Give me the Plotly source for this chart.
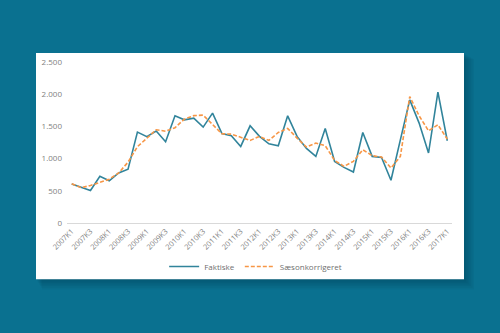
import plotly.graph_objects as go

quarters = [f"{y}K{q}" for y in range(2007, 2017) for q in range(1, 5)] + ["2017K1"]

faktiske = [607, 550, 505, 725, 655, 777, 835, 1411, 1340, 1428, 1262, 1666,
            1602, 1628, 1489, 1706, 1388, 1354, 1189, 1509, 1345, 1230, 1200,
            1664, 1344, 1158, 1034, 1468, 957, 864, 792, 1406, 1034, 1019,
            663, 1290, 1912, 1551, 1087, 2031, 1277]

saeson = [611, 548, 583, 628, 680, 777, 945, 1185, 1320, 1448, 1425, 1480,
          1613, 1667, 1675, 1525, 1385, 1380, 1334, 1282, 1344, 1282, 1406,
          1468, 1319, 1179, 1241, 1200, 972, 879, 957, 1138, 1045, 1024,
          854, 1034, 1963, 1664, 1432, 1525, 1303]

tick_labels = quarters[::2]
y_ticks = [0, 500, 1000, 1500, 2000, 2500]
y_tick_text = ["0", "500", "1.000", "1.500", "2.000", "2.500"]

fig = go.Figure()
fig.add_trace(go.Scatter(x=quarters, y=faktiske, mode="lines", name="Faktiske",
                         line=dict(color="#31849b", width=1.6)))
fig.add_trace(go.Scatter(x=quarters, y=saeson, mode="lines", name="Sæsonkorrigeret",
                         line=dict(color="#f79646", width=1.6, dash="4px,2px")))

W, H = 500, 333
L, R, T, B = 67, 48, 62, 109.5
pw, ph = W - L - R, H - T - B

def px(x):
    return (x - L) / pw

def py(y):
    return (H - B - y) / ph

shapes = []
# soft shadow
for i in range(6):
    off = 2 + i * 1.6
    shapes.append(dict(type="rect", xref="paper", yref="paper", layer="below",
                       x0=px(36 + off * 0.6), x1=px(464 + off), y0=py(280 + off), y1=py(53 + off * 0.6),
                       fillcolor="rgba(0,30,50,0.05)", line=dict(width=0)))
shapes.append(dict(type="rect", xref="paper", yref="paper", layer="below",
                   x0=px(36), x1=px(464), y0=py(280), y1=py(53),
                   fillcolor="white", line=dict(width=0)))

fig.update_layout(
    width=W, height=H,
    margin=dict(l=L, r=R, t=T, b=B),
    paper_bgcolor="#0a7190",
    plot_bgcolor="rgba(0,0,0,0)",
    shapes=shapes,
    font=dict(family="Open Sans, Liberation Sans, sans-serif", size=8, color="#7f7f7f"),
    showlegend=True,
    legend=dict(orientation="h", x=0.49, xanchor="center", y=-0.27, yanchor="middle",
                font=dict(size=8, color="#6f6f6f"), bgcolor="rgba(0,0,0,0)",
                itemwidth=30, tracegroupgap=0),
    xaxis=dict(type="category", tickmode="array", tickvals=tick_labels, ticktext=tick_labels,
               tickangle=-45, showgrid=False, showline=True, linecolor="#d9d9d9", linewidth=1,
               ticks="", zeroline=False, tickfont=dict(size=7.5, color="#7f7f7f"),
               range=[-0.5, len(quarters) - 0.5]),
    yaxis=dict(range=[0, 2500], tickvals=y_ticks, ticktext=y_tick_text, showgrid=False,
               zeroline=False, showline=False, ticks="", ticklabelstandoff=4,
               tickfont=dict(size=8, color="#7f7f7f")),
)

fig.write_html("out.html")
